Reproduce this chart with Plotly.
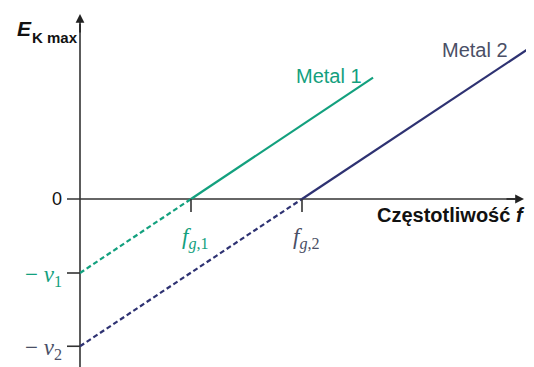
import plotly.graph_objects as go

# Data (frequency in units of f_g,1 ; energy in units of nu_1)
f_g = [1.0, 2.0]            # threshold frequencies f_g,1, f_g,2
nu = [1.0, 1.99]            # intercepts -nu_1, -nu_2
f_end = [2.64, 4.05]        # end of solid lines
names = ["Metal 1", "Metal 2"]
colors = ["#13a07e", "#2e3272"]
label_colors = ["#13a07e", "#4a4f66"]
tick_labels_x = ["<i>f</i><sub><i>g</i>,1</sub>", "<i>f</i><sub><i>g</i>,2</sub>"]
tick_labels_y = ["− <i>ν</i><sub>1</sub>", "− <i>ν</i><sub>2</sub>"]

# page has an 8px body margin; figure is 526x359
W, H = 526, 359
PX_PER_F, PX_PER_E = 111.0, 74.0
OX, OY = 80 - 8, 199 - 8          # origin in figure pixels


def fx(px):  # page pixel x -> data f
    return (px - 80) / PX_PER_F


def fy(py):  # page pixel y -> data E
    return (199 - py) / PX_PER_E


X0, X1 = -OX / PX_PER_F, (W - OX) / PX_PER_F
Y1, Y0 = OY / PX_PER_E, -(H - OY) / PX_PER_E

fig = go.Figure()

for i in range(2):
    slope = nu[i] / f_g[i]
    fig.add_trace(go.Scatter(x=[0, f_g[i]], y=[-nu[i], 0], mode="lines",
                             line=dict(color=colors[i], width=2.2, dash="5px,3px"),
                             showlegend=False, hoverinfo="skip"))
    fig.add_trace(go.Scatter(x=[f_g[i], f_end[i]], y=[0, slope * (f_end[i] - f_g[i])], mode="lines",
                             line=dict(color=colors[i], width=2.2),
                             showlegend=False, hoverinfo="skip"))

AX = "#333333"
shapes = []
shapes.append(dict(type="line", x0=fx(67), x1=fx(515), y0=0, y1=0,
                   line=dict(color=AX, width=1.6), layer="below"))
shapes.append(dict(type="line", x0=0, x1=0, y0=Y0 - 0.1, y1=fy(24),
                   line=dict(color=AX, width=1.6), layer="below"))
for i in range(2):
    shapes.append(dict(type="line", x0=f_g[i], x1=f_g[i], y0=0, y1=fy(212),
                       line=dict(color=AX, width=1.6)))
    shapes.append(dict(type="line", x0=fx(67), x1=0, y0=-nu[i], y1=-nu[i],
                       line=dict(color=AX, width=1.6)))

annotations = []
annotations.append(dict(x=fx(524), y=0, ax=fx(505), ay=0, xref="x", yref="y",
                        axref="x", ayref="y", showarrow=True, arrowhead=2, arrowsize=1.1,
                        arrowwidth=1.6, arrowcolor="#222222", text=""))
annotations.append(dict(x=0, y=fy(14), ax=0, ay=fy(34), xref="x", yref="y",
                        axref="x", ayref="y", showarrow=True, arrowhead=2, arrowsize=1.1,
                        arrowwidth=1.6, arrowcolor="#222222", text=""))

# axis titles
annotations.append(dict(x=fx(34), y=fy(28), xref="x", yref="y", showarrow=False, xanchor="right",
                        yanchor="middle", text="<b><i>E</i></b>",
                        font=dict(family="Liberation Sans", size=21, color="#111111")))
annotations.append(dict(x=fx(30), y=fy(37), xref="x", yref="y", showarrow=False, xanchor="left",
                        yanchor="middle", text="<b>K max</b>",
                        font=dict(family="Liberation Sans", size=15, color="#111111")))
annotations.append(dict(x=fx(527), y=fy(215), xref="x", yref="y", showarrow=False, xanchor="right",
                        yanchor="middle", text="<b>Częstotliwość <i>f</i></b>",
                        font=dict(family="Liberation Sans", size=20, color="#111111")))
annotations.append(dict(x=fx(64), y=0, xref="x", yref="y", showarrow=False, xanchor="right",
                        yanchor="middle", text="0",
                        font=dict(family="Liberation Sans", size=18, color="#111111")))

for i in range(2):
    annotations.append(dict(x=f_g[i] - 0.1, y=fy(238), xref="x", yref="y", showarrow=False,
                            xanchor="left", yanchor="middle", text=tick_labels_x[i],
                            font=dict(family="Liberation Serif", size=23, color=label_colors[i])))
    annotations.append(dict(x=fx(64), y=-nu[i] - 0.04, xref="x", yref="y", showarrow=False,
                            xanchor="right", yanchor="middle", text=tick_labels_y[i],
                            font=dict(family="Liberation Serif", size=23, color=label_colors[i])))

annotations.append(dict(x=fx(364), y=fy(76), xref="x", yref="y", showarrow=False, xanchor="right",
                        yanchor="middle", text=names[0],
                        font=dict(family="Liberation Sans", size=20, color=label_colors[0])))
annotations.append(dict(x=fx(510), y=fy(50), xref="x", yref="y", showarrow=False, xanchor="right",
                        yanchor="middle", text=names[1],
                        font=dict(family="Liberation Sans", size=20, color=label_colors[1])))

fig.update_layout(
    width=W, height=H,
    margin=dict(l=0, r=0, t=0, b=0),
    paper_bgcolor="white", plot_bgcolor="white",
    xaxis=dict(range=[X0, X1], visible=False, fixedrange=True),
    yaxis=dict(range=[Y0, Y1], visible=False, fixedrange=True),
    shapes=shapes, annotations=annotations,
    showlegend=False,
)

fig.write_html("out.html", config={"displayModeBar": False})
